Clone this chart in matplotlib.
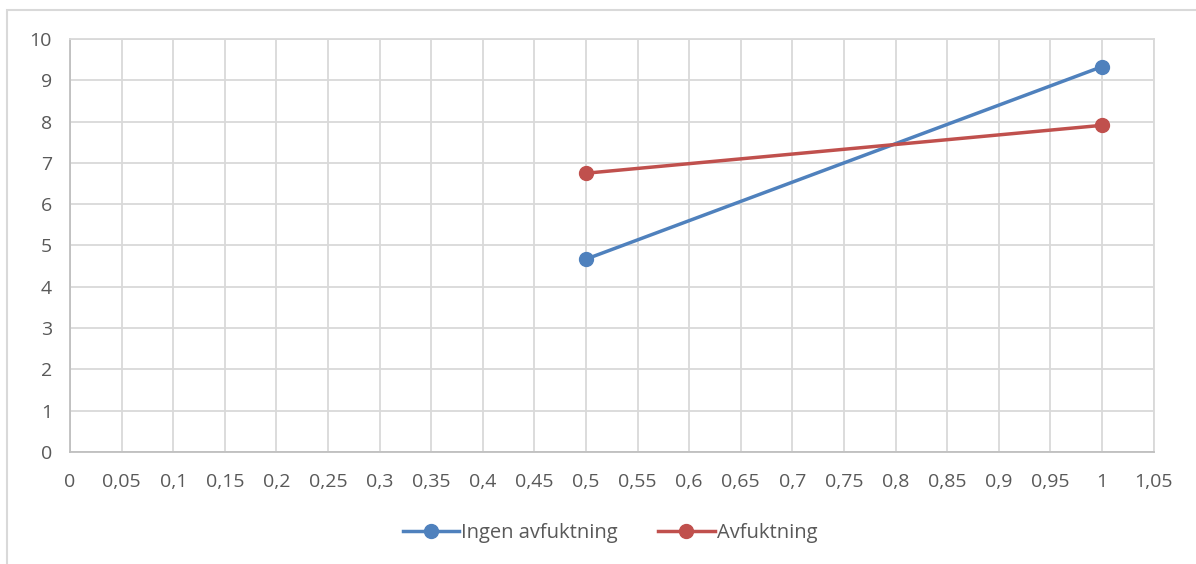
import matplotlib.pyplot as plt
from matplotlib.patches import Rectangle
from matplotlib.ticker import FuncFormatter, MultipleLocator

plt.rcParams['font.family'] = ['Open Sans', 'DejaVu Sans']

# data
x_vals = [0.5, 1.0]
ingen = [4.67, 9.33]
avfukt = [6.75, 7.91]
series_names = ['Ingen avfuktning', 'Avfuktning']

txt = '#595959'
grid_c = '#d9d9d9'

fig = plt.figure(figsize=(11.96, 5.64), dpi=100)
# outer chart frame
fig.patches.append(Rectangle((7 / 1196, -0.1), 1.2, (564 - 10) / 564 + 0.1,
                             transform=fig.transFigure, fill=False,
                             edgecolor='#d9d9d9', linewidth=1.5))

ax = fig.add_axes([70 / 1196, (564 - 452) / 564, (1153.6 - 70) / 1196, (452 - 39) / 564])
ax.plot(x_vals, ingen, color='#4F81BD', lw=2.5, marker='o', ms=10, label=series_names[0], zorder=3)
ax.plot(x_vals, avfukt, color='#C0504D', lw=2.5, marker='o', ms=10, label=series_names[1], zorder=3)

ax.set_xlim(0, 1.05)
ax.set_ylim(0, 10)
ax.xaxis.set_major_locator(MultipleLocator(0.05))
ax.yaxis.set_major_locator(MultipleLocator(1))

def comma(v, pos):
    s = ('%.2f' % v).rstrip('0').rstrip('.')
    return s.replace('.', ',')

ax.xaxis.set_major_formatter(FuncFormatter(comma))
ax.yaxis.set_major_formatter(FuncFormatter(lambda v, p: '%d' % round(v)))
ax.grid(True, color=grid_c, lw=1.3)
ax.set_axisbelow(True)
for side in ['top', 'right']:
    ax.spines[side].set_color(grid_c)
    ax.spines[side].set_linewidth(1.3)
for side in ['left', 'bottom']:
    ax.spines[side].set_color('#bfbfbf')
    ax.spines[side].set_linewidth(1.3)
ax.tick_params(length=0, colors=txt, labelsize=14)
ax.tick_params(axis='x', pad=15)
ax.tick_params(axis='y', pad=13)

leg = fig.legend(loc='center', bbox_to_anchor=(0.51, 1 - 533 / 564), ncol=2, frameon=False,
                 fontsize=14.5, handlelength=2.8, handletextpad=0.1, columnspacing=2.0)
for t in leg.get_texts():
    t.set_color(txt)

fig.savefig('out.png', dpi=100)
